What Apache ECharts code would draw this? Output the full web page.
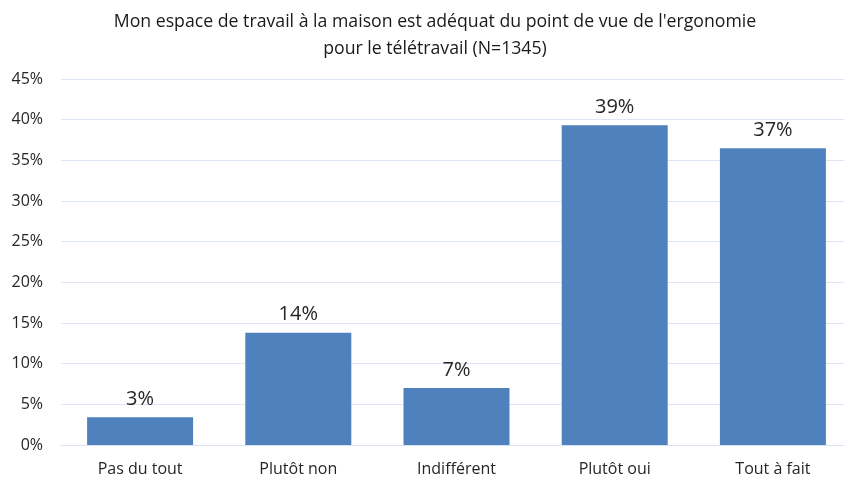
<!DOCTYPE html>
<html>
<head>
<meta charset="utf-8">
<script src="https://cdn.jsdelivr.net/npm/echarts@6/dist/echarts.min.js"></script>
<style>
  html, body { margin: 0; padding: 0; background: #fff; }
  #main { width: 844px; height: 479px; }
</style>
</head>
<body>
<div id="main"></div>
<script>
  var categories = ['Pas du tout', 'Plutôt non', 'Indifférent', 'Plutôt oui', 'Tout à fait']
  var values = [3.4, 13.8, 7.0, 39.3, 36.5]
  var valueLabels = ['3%', '14%', '7%', '39%', '37%']
  var titleText = "Mon espace de travail à la maison est adéquat du point de vue de l'ergonomie\npour le télétravail (N=1345)"

  var myChart = echarts.init(document.getElementById('main'))
  var option = {
    animation: false,
    title: {
      text: titleText,
      left: 430,
      textAlign: 'center',
      top: 3,
      textStyle: {
        fontFamily: 'Open Sans',
        fontSize: 17.7,
        fontWeight: 'normal',
        color: '#1a1a1a',
        lineHeight: 27
      }
    },
    grid: {
      left: 61,
      right: -8,
      top: 79,
      bottom: 34,
      containLabel: false,
      outerBoundsMode: 'none'
    },
    xAxis: {
      type: 'category',
      data: categories,
      axisTick: { show: false },
      axisLine: { lineStyle: { color: '#d9e2f3', width: 1 } },
      axisLabel: {
        fontFamily: 'Open Sans',
        fontSize: 16,
        color: '#262626',
        margin: 16
      }
    },
    yAxis: {
      type: 'value',
      min: 0,
      max: 45,
      interval: 5,
      axisLine: { show: false },
      axisTick: { show: false },
      splitLine: { lineStyle: { color: '#dde6f4', width: 1 } },
      axisLabel: {
        formatter: '{value}%',
        fontFamily: 'Open Sans',
        fontSize: 16,
        color: '#262626',
        margin: 18
      }
    },
    series: [{
      type: 'bar',
      data: values,
      barWidth: '67%',
      itemStyle: { color: '#4f81bd' },
      label: {
        show: true,
        position: 'top',
        distance: 8,
        fontFamily: 'Open Sans',
        fontSize: 20,
        color: '#262626',
        formatter: function (p) { return valueLabels[p.dataIndex] }
      }
    }]
  }
  myChart.setOption(option)
</script>
</body>
</html>
